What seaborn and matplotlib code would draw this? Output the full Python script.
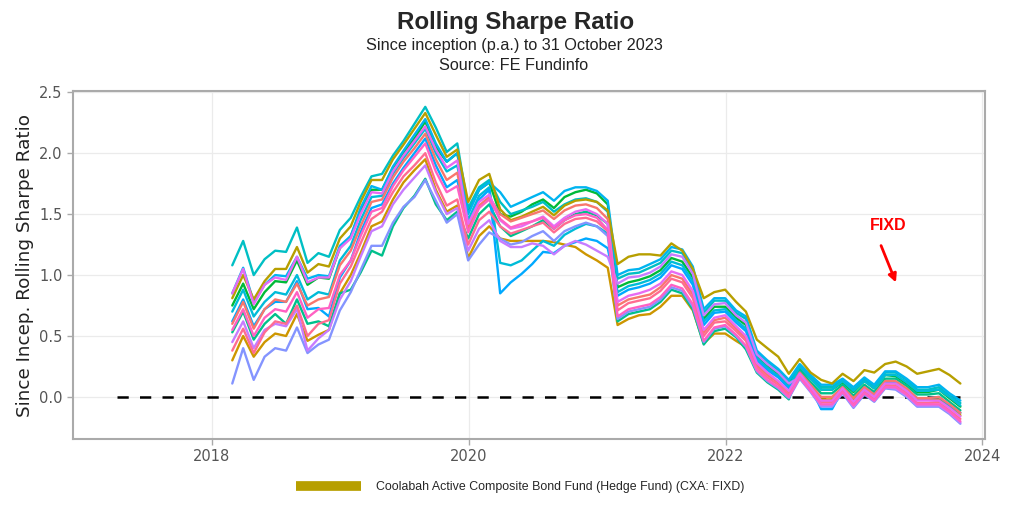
# Rolling Sharpe Ratio - FIXD vs peers
import pandas as pd
import matplotlib
matplotlib.use("Agg")
import matplotlib.pyplot as plt
from matplotlib.lines import Line2D
import seaborn as sns

# month-end dates, Feb 2018 .. Oct 2023
dates = pd.date_range("2018-02-28", periods=69, freq="ME")

fixd = [0.81, 1.00, 0.80, 0.95, 1.05, 1.05, 1.23, 1.02, 1.09, 1.07, 1.30, 1.40, 1.60, 1.78, 1.78, 1.95, 2.07, 2.20, 2.33, 2.15, 1.97, 2.03,
        1.60, 1.78, 1.83, 1.54, 1.45, 1.48, 1.52, 1.56, 1.49, 1.57, 1.61, 1.62, 1.60, 1.53,
        1.09, 1.15, 1.17, 1.17, 1.16, 1.26, 1.20, 1.05, 0.81, 0.86, 0.88, 0.78, 0.70, 0.47, 0.40, 0.33, 0.19,
        0.31, 0.20, 0.14, 0.11, 0.19, 0.13, 0.22, 0.20, 0.27, 0.29, 0.25, 0.19, 0.21, 0.23, 0.18, 0.11]
peer_teal = [1.08, 1.28, 1.00, 1.13, 1.20, 1.19, 1.39, 1.10, 1.18, 1.15, 1.37, 1.47, 1.64, 1.81, 1.83, 1.98, 2.10, 2.24, 2.38, 2.21, 2.01, 2.08,
             1.55, 1.72, 1.78, 1.60, 1.50, 1.53, 1.56, 1.60, 1.52, 1.58, 1.62, 1.63, 1.60, 1.52,
             0.97, 1.01, 1.02, 1.06, 1.10, 1.20, 1.18, 1.04, 0.69, 0.79, 0.79, 0.69, 0.64, 0.36, 0.28, 0.22, 0.13,
             0.26, 0.17, 0.08, 0.08, 0.14, 0.06, 0.15, 0.09, 0.20, 0.20, 0.14, 0.06, 0.06, 0.08, 0.01, -0.05]
peer_blue = [0.85, 1.06, 0.78, 0.92, 1.00, 0.99, 1.15, 0.97, 1.00, 0.99, 1.24, 1.32, 1.55, 1.73, 1.70, 1.89, 2.02, 2.15, 2.28, 2.08, 1.93, 2.00,
             1.50, 1.70, 1.76, 1.68, 1.56, 1.60, 1.64, 1.68, 1.61, 1.69, 1.72, 1.72, 1.69, 1.61,
             1.00, 1.04, 1.05, 1.09, 1.13, 1.23, 1.21, 1.07, 0.72, 0.81, 0.81, 0.71, 0.66, 0.38, 0.30, 0.23, 0.14,
             0.27, 0.18, 0.10, 0.10, 0.15, 0.08, 0.16, 0.10, 0.21, 0.21, 0.15, 0.08, 0.08, 0.10, 0.03, -0.03]
peer_blue2 = [0.62, 0.80, 0.58, 0.72, 0.78, 0.78, 0.95, 0.72, 0.73, 0.66, 0.98, 1.12, 1.35, 1.55, 1.58, 1.75, 1.88, 2.00, 2.12, 1.90, 1.72, 1.78,
              1.40, 1.62, 1.70, 0.85, 0.94, 1.01, 1.09, 1.19, 1.18, 1.24, 1.27, 1.30, 1.28, 1.22,
              0.83, 0.88, 0.90, 0.93, 0.98, 1.08, 1.05, 0.92, 0.59, 0.69, 0.70, 0.61, 0.54, 0.30, 0.22, 0.16, 0.07,
              0.20, 0.08, -0.10, -0.10, 0.06, -0.05, 0.08, 0.02, 0.12, 0.12, 0.06, -0.01, -0.01, 0.00, -0.07, -0.13]
peer_green = [0.75, 0.93, 0.72, 0.86, 0.95, 0.94, 1.12, 0.92, 0.98, 0.97, 1.22, 1.32, 1.52, 1.70, 1.70, 1.88, 2.00, 2.12, 2.26, 2.05, 1.93, 2.00,
              1.52, 1.70, 1.76, 1.50, 1.48, 1.52, 1.58, 1.62, 1.55, 1.64, 1.68, 1.70, 1.67, 1.58,
              0.90, 0.94, 0.96, 0.99, 1.04, 1.14, 1.11, 0.98, 0.64, 0.74, 0.74, 0.65, 0.59, 0.33, 0.25, 0.19, 0.10,
              0.24, 0.15, 0.06, 0.06, 0.12, 0.04, 0.13, 0.07, 0.18, 0.17, 0.11, 0.04, 0.04, 0.06, -0.01, -0.08]
peer_seagreen = [0.53, 0.70, 0.47, 0.60, 0.68, 0.60, 0.80, 0.60, 0.62, 0.58, 0.85, 0.88, 1.02, 1.20, 1.16, 1.40, 1.55, 1.65, 1.79, 1.58, 1.45, 1.52,
                 1.30, 1.50, 1.58, 1.40, 1.32, 1.36, 1.40, 1.45, 1.38, 1.45, 1.50, 1.52, 1.49, 1.42,
                 0.62, 0.68, 0.70, 0.72, 0.78, 0.88, 0.85, 0.72, 0.43, 0.54, 0.56, 0.49, 0.39, 0.20, 0.12, 0.06, -0.02,
                 0.22, 0.12, 0.03, 0.03, 0.10, 0.01, 0.10, 0.04, 0.15, 0.15, 0.09, 0.02, 0.02, 0.03, -0.04, -0.11]
peer_gold = [0.30, 0.50, 0.33, 0.45, 0.52, 0.50, 0.68, 0.46, 0.51, 0.55, 0.85, 1.00, 1.18, 1.40, 1.44, 1.62, 1.76, 1.86, 1.95, 1.70, 1.52, 1.57,
             1.14, 1.32, 1.40, 1.30, 1.28, 1.28, 1.28, 1.28, 1.27, 1.25, 1.23, 1.17, 1.12, 1.06,
             0.59, 0.64, 0.67, 0.68, 0.74, 0.83, 0.83, 0.71, 0.44, 0.52, 0.52, 0.46, 0.41, 0.27, 0.19, 0.12, 0.00,
             0.19, 0.09, -0.02, -0.02, 0.07, -0.03, 0.07, 0.01, 0.12, 0.11, 0.05, -0.02, -0.02, -0.02, -0.08, -0.15]
peer_periwinkle = [0.11, 0.40, 0.14, 0.33, 0.40, 0.38, 0.57, 0.36, 0.43, 0.47, 0.71, 0.86, 1.04, 1.24, 1.24, 1.43, 1.56, 1.64, 1.78, 1.61, 1.43, 1.50,
                   1.12, 1.25, 1.35, 1.30, 1.25, 1.27, 1.32, 1.36, 1.28, 1.36, 1.40, 1.43, 1.40, 1.32,
                   0.64, 0.70, 0.72, 0.74, 0.80, 0.90, 0.87, 0.74, 0.45, 0.56, 0.58, 0.50, 0.41, 0.21, 0.13, 0.07, -0.01,
                   0.15, 0.04, -0.08, -0.08, 0.03, -0.09, 0.02, -0.04, 0.07, 0.06, 0.00, -0.08, -0.08, -0.08, -0.14, -0.22]
peer_purple = [0.45, 0.62, 0.40, 0.55, 0.60, 0.58, 0.72, 0.38, 0.48, 0.55, 0.80, 0.95, 1.15, 1.36, 1.40, 1.58, 1.70, 1.80, 1.90, 1.68, 1.50, 1.55,
               1.20, 1.38, 1.45, 1.28, 1.23, 1.23, 1.26, 1.24, 1.17, 1.24, 1.28, 1.25, 1.20, 1.15,
               0.93, 0.98, 0.99, 1.02, 1.07, 1.17, 1.15, 1.01, 0.67, 0.76, 0.77, 0.67, 0.61, 0.35, 0.27, 0.20, 0.11,
               0.16, 0.05, -0.07, -0.07, 0.04, -0.08, 0.03, -0.03, 0.08, 0.07, 0.01, -0.07, -0.07, -0.07, -0.13, -0.21]
peer_magenta = [0.85, 1.05, 0.76, 0.92, 0.98, 0.96, 1.15, 0.94, 0.98, 0.98, 1.22, 1.30, 1.50, 1.68, 1.67, 1.85, 1.98, 2.10, 2.22, 2.03, 1.88, 1.94,
                1.42, 1.60, 1.66, 1.45, 1.38, 1.40, 1.44, 1.48, 1.40, 1.47, 1.52, 1.54, 1.50, 1.42,
                0.78, 0.83, 0.85, 0.88, 0.93, 1.03, 1.00, 0.87, 0.55, 0.65, 0.67, 0.58, 0.50, 0.28, 0.20, 0.13, 0.05,
                0.19, 0.08, -0.03, -0.03, 0.07, -0.04, 0.06, 0.00, 0.11, 0.11, 0.05, -0.03, -0.03, -0.03, -0.09, -0.16]
peer_pink = [0.55, 0.72, 0.50, 0.65, 0.72, 0.70, 0.86, 0.65, 0.72, 0.73, 1.00, 1.12, 1.32, 1.52, 1.55, 1.73, 1.86, 1.97, 2.08, 1.85, 1.68, 1.73,
             1.35, 1.55, 1.62, 1.46, 1.39, 1.42, 1.44, 1.47, 1.38, 1.45, 1.49, 1.50, 1.47, 1.37,
             0.66, 0.72, 0.74, 0.76, 0.82, 0.92, 0.89, 0.76, 0.46, 0.57, 0.59, 0.51, 0.42, 0.22, 0.14, 0.08, 0.00,
             0.16, 0.05, -0.06, -0.06, 0.04, -0.07, 0.03, -0.03, 0.08, 0.08, 0.02, -0.06, -0.06, -0.06, -0.12, -0.20]
peer_salmon = [0.60, 0.78, 0.56, 0.72, 0.80, 0.78, 0.93, 0.75, 0.80, 0.82, 1.08, 1.20, 1.40, 1.60, 1.62, 1.80, 1.93, 2.04, 2.16, 1.95, 1.78, 1.84,
               1.38, 1.57, 1.64, 1.50, 1.44, 1.47, 1.50, 1.53, 1.46, 1.53, 1.57, 1.58, 1.55, 1.46,
               0.75, 0.80, 0.82, 0.84, 0.90, 1.00, 0.97, 0.84, 0.53, 0.63, 0.65, 0.56, 0.48, 0.26, 0.18, 0.12, 0.04,
               0.20, 0.10, 0.00, 0.00, 0.08, -0.01, 0.08, 0.02, 0.13, 0.13, 0.07, -0.01, -0.01, 0.00, -0.06, -0.13]
peer_cyan = [0.70, 0.88, 0.66, 0.78, 0.86, 0.84, 1.00, 0.80, 0.86, 0.84, 1.12, 1.24, 1.45, 1.64, 1.65, 1.83, 1.96, 2.08, 2.20, 2.00, 1.85, 1.90,
             1.45, 1.65, 1.72, 1.10, 1.08, 1.12, 1.20, 1.28, 1.24, 1.33, 1.38, 1.42, 1.40, 1.34,
             0.86, 0.91, 0.93, 0.96, 1.01, 1.11, 1.08, 0.95, 0.62, 0.71, 0.72, 0.63, 0.56, 0.32, 0.24, 0.17, 0.08,
             0.25, 0.15, 0.06, 0.06, 0.13, 0.05, 0.13, 0.07, 0.18, 0.18, 0.12, 0.05, 0.05, 0.06, 0.00, -0.07]
peer_rose = [0.38, 0.56, 0.36, 0.53, 0.62, 0.60, 0.75, 0.50, 0.60, 0.63, 0.93, 1.07, 1.26, 1.46, 1.52, 1.68, 1.81, 1.90, 2.00, 1.76, 1.57, 1.62,
             1.25, 1.45, 1.52, 1.40, 1.34, 1.37, 1.40, 1.43, 1.35, 1.42, 1.46, 1.47, 1.44, 1.36,
             0.71, 0.77, 0.79, 0.81, 0.87, 0.97, 0.94, 0.81, 0.50, 0.61, 0.62, 0.54, 0.46, 0.24, 0.16, 0.10, 0.02,
             0.17, 0.07, -0.04, -0.04, 0.05, -0.06, 0.05, -0.01, 0.10, 0.09, 0.03, -0.05, -0.05, -0.04, -0.11, -0.18]

fixd_name = "Coolabah Active Composite Bond Fund (Hedge Fund) (CXA: FIXD)"

series = {
    "Peer A": peer_gold,
    "Peer B": peer_green,
    "Peer C": peer_seagreen,
    "Peer D": peer_teal,
    "Peer E": peer_cyan,
    "Peer F": peer_blue,
    "Peer G": peer_blue2,
    fixd_name: fixd,
    "Peer H": peer_periwinkle,
    "Peer I": peer_purple,
    "Peer J": peer_salmon,
    "Peer K": peer_rose,
    "Peer L": peer_magenta,
    "Peer M": peer_pink,
}
colours = ["#CD9600", "#00BA38", "#00C08B", "#00BFC4", "#00BCD8", "#00B4F0", "#00A9FF",
           "#B79F00", "#8494FF", "#C77CFF", "#F8766D", "#FF6C91", "#E76BF3", "#FF61C3"]
palette = dict(zip(series.keys(), colours))

df = pd.DataFrame(series)
df["date"] = dates
long = df.melt(id_vars="date", var_name="fund", value_name="sharpe")

sns.set_style("white")
plt.rcParams["font.family"] = ["DejaVu Sans"]

fig = plt.figure(figsize=(10.24, 5.28), dpi=100)
ax = fig.add_axes([0.0713, 0.1686, 0.8906, 0.659])

# zero reference line
ax.plot(pd.to_datetime(["2017-04-07", "2023-10-31"]), [0, 0], color="black",
        lw=1.8, dashes=(4.5, 4.5), zorder=1)

sns.lineplot(data=long, x="date", y="sharpe", hue="fund", hue_order=list(series.keys()),
             palette=palette, linewidth=1.7, legend=False, ax=ax, zorder=2)

ax.set_xlim(pd.Timestamp("2016-12-02"), pd.Timestamp("2024-01-09"))
ax.set_ylim(-0.345, 2.51)
ax.set_yticks([0.0, 0.5, 1.0, 1.5, 2.0, 2.5])
ax.set_yticklabels(["0.0", "0.5", "1.0", "1.5", "2.0", "2.5"])
ax.set_xticks(pd.to_datetime(["2018-01-01", "2020-01-01", "2022-01-01", "2024-01-01"]))
ax.set_xticklabels(["2018", "2020", "2022", "2024"])
ax.grid(True, color="#EBEBEB", lw=0.9)
ax.set_axisbelow(True)
for s in ax.spines.values():
    s.set_color("#AAAAAA")
    s.set_linewidth(1.5)
ax.tick_params(axis="both", colors="#AAAAAA", labelcolor="#555555", labelsize=10.5,
               length=4, width=1, direction="out", left=True, bottom=True)
ax.set_xlabel("")
ax.set_ylabel("Since Incep. Rolling Sharpe Ratio", fontsize=13.2, color="#222222")

# FIXD annotation (figure pixel positions)
fig.text(888, 303, "FIXD", transform=None, color="red", fontsize=11.5,
         fontweight="bold", ha="center", va="center", family="Liberation Sans")
ax.annotate("", xy=(897, 243), xytext=(880, 285), xycoords="figure pixels",
            textcoords="figure pixels",
            arrowprops=dict(arrowstyle="-|>", color="red", lw=2, mutation_scale=12))

fig.text(0.503, 0.957, "Rolling Sharpe Ratio", ha="center", va="center", fontsize=17.4,
         fontweight="bold", family="Liberation Sans")
fig.text(0.502, 0.913, "Since inception (p.a.) to 31 October 2023", ha="center", va="center",
         fontsize=11.7, family="Liberation Sans", color="#222222")
fig.text(0.502, 0.875, "Source: FE Fundinfo", ha="center", va="center",
         fontsize=11.7, family="Liberation Sans", color="#222222")

handle = [Line2D([0], [0], color="#B79F00", lw=7, solid_capstyle="butt")]
leg = fig.legend(handle, [fixd_name], loc="center", bbox_to_anchor=(0.508, 0.077),
                 frameon=False, handlelength=5.3, handletextpad=1.2,
                 prop={"family": "Liberation Sans", "size": 8.9})

fig.savefig("out.png", dpi=100, facecolor="white")
